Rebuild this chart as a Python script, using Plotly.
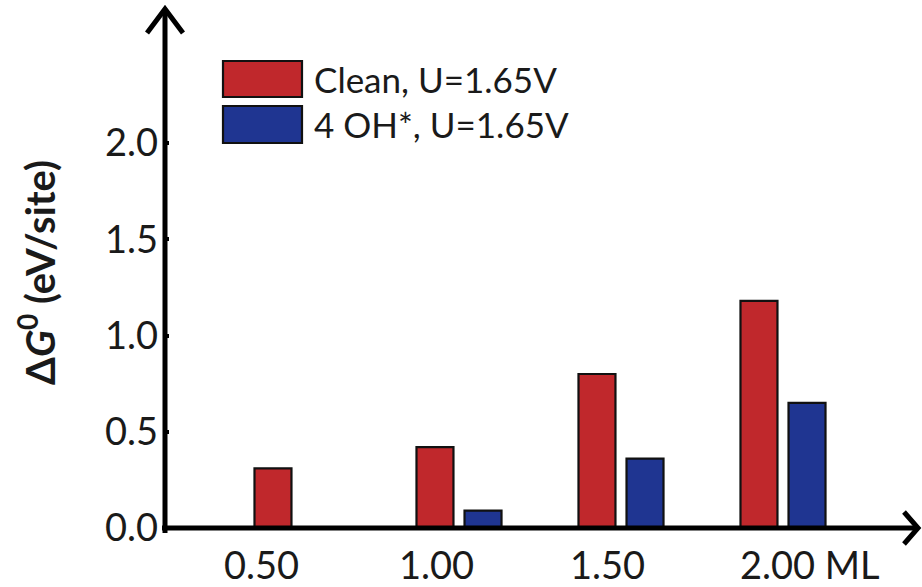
import plotly.graph_objects as go

# ---------------- data ----------------
coverage = [0.5, 1.0, 1.5, 2.0]
tick_labels = ["0.50", "1.00", "1.50", "2.00 ML"]
series_names = ["Clean, U=1.65V", "4 OH*, U=1.65V"]
clean_dG = [0.31, 0.42, 0.80, 1.18]
oh_dG = [None, 0.09, 0.36, 0.65]
y_ticks = [0.0, 0.5, 1.0, 1.5, 2.0]

# ---------------- style ----------------
RED = "#C0282C"
BLUE = "#1F3591"
FONT = "Lato"
W, H = 922, 587
L, R, T, B = 165, 2, 8, 59
PW, PH = W - L - R, H - T - B
XR = [0.0926, 0.0926 + PW / 324.0]
YR = [0.0, PH / 192.5]


def px_x(p):
    return (p - L) / PW


def px_y(p):
    return (H - B - p) / PH


fig = go.Figure()
for name, vals, col in [(series_names[0], clean_dG, RED), (series_names[1], oh_dG, BLUE)]:
    fig.add_trace(go.Bar(
        x=coverage, y=vals, name=name, marker_color=col,
        marker_line_color="#111111", marker_line_width=2.2,
        showlegend=False, hoverinfo="skip",
    ))

shapes = []
# axes lines
shapes.append(dict(type="line", xref="paper", yref="paper", x0=0, x1=0,
                   y0=px_y(533), y1=px_y(11), line=dict(color="black", width=5)))
shapes.append(dict(type="line", xref="paper", yref="paper", x0=px_x(162), x1=px_x(918),
                   y0=0, y1=0, line=dict(color="black", width=5)))
# arrow heads (chevrons)
shapes.append(dict(type="path", xref="paper", yref="paper", xsizemode="pixel", ysizemode="pixel",
                   xanchor=0, yanchor=px_y(9), path="M-18,-24 L0,0 L18,-24",
                   line=dict(color="black", width=5)))
shapes.append(dict(type="path", xref="paper", yref="paper", xsizemode="pixel", ysizemode="pixel",
                   xanchor=px_x(918), yanchor=0, path="M-14,16 L0,0 L-14,-16",
                   line=dict(color="black", width=5)))
# custom legend swatches
leg_rows = [(61, 97), (106, 143)]
for (top, bot), col in zip(leg_rows, [RED, BLUE]):
    shapes.append(dict(type="rect", xref="paper", yref="paper",
                       x0=px_x(223), x1=px_x(302), y0=px_y(bot), y1=px_y(top),
                       fillcolor=col, line=dict(color="#111111", width=2.2)))

annotations = []
for (top, bot), name in zip(leg_rows, series_names):
    annotations.append(dict(xref="paper", yref="paper", x=px_x(312), y=px_y((top + bot) / 2),
                            xanchor="left", yanchor="middle", text=name, showarrow=False,
                            font=dict(family=FONT, size=35, color="#1a1a1a")))
# x tick labels (placed per label, nudged like the original)
label_nudge = [-75, -62, -53, -45]
for xv, txt, dx in zip(coverage, tick_labels, label_nudge):
    annotations.append(dict(xref="x", yref="paper", x=xv, y=0, xanchor="left", yanchor="top",
                            xshift=dx, yshift=-11, text=txt, showarrow=False,
                            font=dict(family=FONT, size=38, color="#1a1a1a")))
# y axis title
annotations.append(dict(xref="paper", yref="paper", x=px_x(37), y=px_y(273), xanchor="center",
                        yanchor="middle",
                        text="<b>Δ<i>G</i><sup>0</sup> (eV/site)</b>",
                        showarrow=False, textangle=-90,
                        font=dict(family=FONT, size=40, color="#1a1a1a")))

fig.update_layout(
    width=W, height=H,
    margin=dict(l=L, r=R, t=T, b=B),
    paper_bgcolor="white", plot_bgcolor="white",
    barmode="group", bargap=0.407, bargroupgap=0.23,
    hovermode=False,
    xaxis=dict(range=XR, showgrid=False, zeroline=False, showline=False,
               showticklabels=False, ticks=""),
    yaxis=dict(range=YR, showgrid=False, zeroline=False, showline=False,
               tickvals=y_ticks, ticktext=[f"{v:.1f}" for v in y_ticks],
               ticks="inside", ticklen=4, tickwidth=4, tickcolor="black",
               ticklabelstandoff=6,
               tickfont=dict(family=FONT, size=38, color="#1a1a1a")),
    shapes=shapes,
    annotations=annotations,
)

fig.write_html("out.html", config={"displayModeBar": False},
               post_script="document.body.style.margin='0px';")
